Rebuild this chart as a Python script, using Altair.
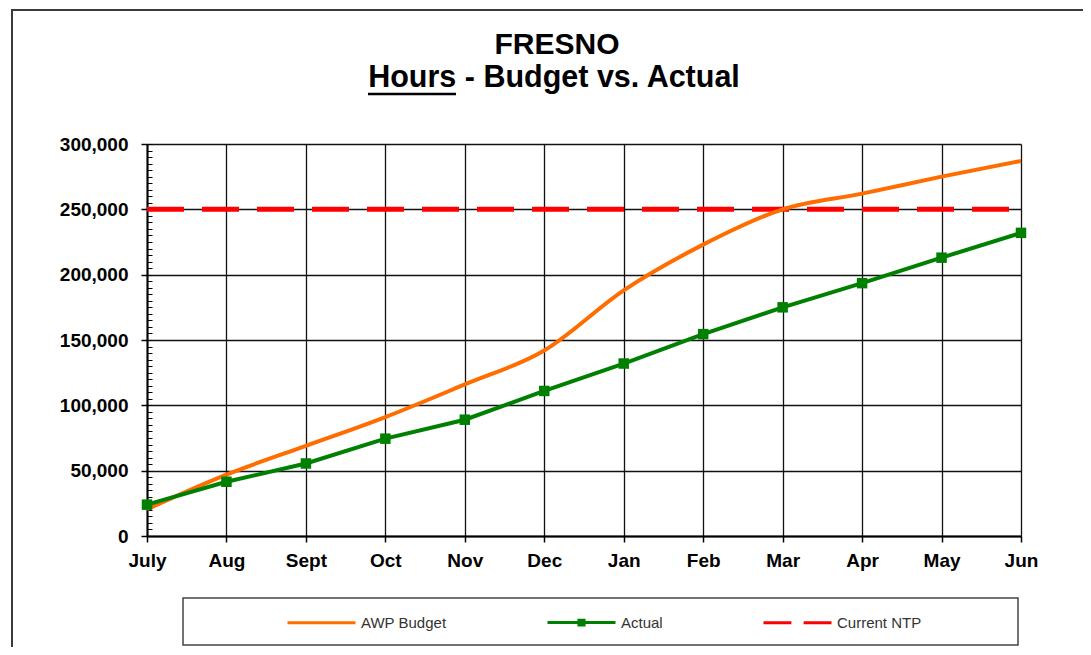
import altair as alt
import pandas as pd

months = ["July", "Aug", "Sept", "Oct", "Nov", "Dec", "Jan", "Feb", "Mar", "Apr", "May", "Jun"]
budget = [20500, 47000, 69000, 91000, 116000, 142000, 188000, 223000, 250000, 262000, 275000, 287000]
actual = [24000, 41500, 55500, 74500, 89000, 111000, 132000, 154500, 175000, 193500, 213000, 232000]
ntp = [250000] * 12
series_names = ["AWP Budget", "Actual", "Current NTP"]
series_colors = ["#FF6C00", "#008000", "#FF0000"]
legend_shapes = ["M-1,0H1",
                 "M-1,0H1M-0.12,-0.07H0.12M-0.12,0.07H0.12",
                 "M-1,0H-0.18M0.18,0H1"]
title_line1 = "FRESNO"
title_line2 = "Hours - Budget vs. Actual"
y_ticks = [0, 50000, 100000, 150000, 200000, 250000, 300000]
y_minor = list(range(0, 300001, 5000))

df_b = pd.DataFrame({"month": months, "value": budget, "series": series_names[0]})
df_a = pd.DataFrame({"month": months, "value": actual, "series": series_names[1]})
df_n = pd.DataFrame({"month": months, "value": ntp, "series": series_names[2]})

FONT = "Liberation Sans"

xenc = alt.X("month:N", sort=months, scale=alt.Scale(type="point", padding=0),
             axis=alt.Axis(title=None, labelAngle=0, labelFont=FONT, labelFontSize=19,
                           labelFontWeight="bold", labelColor="black", labelPadding=9,
                           tickSize=6, tickColor="black", tickWidth=1.5,
                           domainColor="black", domainWidth=2,
                           grid=True, gridColor="#111111", gridWidth=1.3))
yscale = alt.Scale(domain=[0, 300000], nice=False)
y_main = alt.Y("value:Q", scale=yscale,
               axis=alt.Axis(title=None, orient="left", values=y_ticks, format=",.0f",
                             labelFont=FONT, labelFontSize=19, labelFontWeight="bold",
                             labelColor="black", labelPadding=13, tickSize=6,
                             tickColor="black", tickWidth=1.5, domainColor="black",
                             domainWidth=2, grid=True, gridColor="#111111", gridWidth=1.3))
y_min = alt.Y("value:Q", scale=yscale,
              axis=alt.Axis(title=None, orient="left", values=y_minor, labels=False,
                            tickSize=5, tickColor="black", tickWidth=1, domain=False,
                            grid=False, offset=-5))
y_none = alt.Y("value:Q", scale=yscale, axis=None)

legend = alt.Legend(
    title=None, orient="none", legendX=139, legendY=443, direction="horizontal",
    symbolSize=4624, symbolStrokeWidth=3, labelFont=FONT,
    labelFontSize=15, labelColor="#333333", labelOffset=4, columnPadding=94,
    padding=0,
)
color_leg = alt.Color("series:N", scale=alt.Scale(domain=series_names, range=series_colors),
                      legend=legend)
shape_leg = alt.Shape("series:N", scale=alt.Scale(domain=series_names, range=legend_shapes),
                      legend=legend)
color = alt.Color("series:N", scale=alt.Scale(domain=series_names, range=series_colors),
                  legend=None)

deco = pd.DataFrame({"k": [0]})
border = alt.Chart(deco).mark_rect(fill="transparent", stroke="#3a3a3a", strokeWidth=2).encode(
    x=alt.value(-135), x2=alt.value(1200), y=alt.value(-134), y2=alt.value(900))
legbox = alt.Chart(deco).mark_rect(fill="transparent", stroke="#444444", strokeWidth=1.5).encode(
    x=alt.value(36), x2=alt.value(871), y=alt.value(454), y2=alt.value(501))
t1 = alt.Chart(deco).mark_text(font=FONT, fontSize=30, fontWeight="bold", color="black",
                               align="center", baseline="alphabetic").encode(
    x=alt.value(410), y=alt.value(-90), text=alt.value(title_line1))
t2 = alt.Chart(deco).mark_text(font=FONT, fontSize=30.5, fontWeight="bold", color="black",
                               align="center", baseline="alphabetic").encode(
    x=alt.value(407), y=alt.value(-57), text=alt.value(title_line2))
underline = alt.Chart(deco).mark_rule(color="black", strokeWidth=2.5).encode(
    x=alt.value(221), x2=alt.value(309), y=alt.value(-50))

# legend-only layer: no rows drawn, it only carries the legend symbols
legend_layer = alt.Chart(df_a).transform_filter("datum.value < 0").mark_point(
    filled=False, strokeWidth=3, opacity=1, size=4624).encode(
    x=xenc, y=y_none, color=color_leg, shape=shape_leg)

ntp_layer = alt.Chart(df_n).mark_line(strokeWidth=5, strokeDash=[37, 18], strokeCap="butt").encode(
    x=xenc, y=y_main, color=color)
budget_layer = alt.Chart(df_b).mark_line(strokeWidth=4, interpolate="monotone").encode(
    x=xenc, y=y_min, color=color)
actual_layer = alt.Chart(df_a).mark_line(strokeWidth=4).encode(x=xenc, y=y_none, color=color)
actual_pts = alt.Chart(df_a).mark_square(size=110, opacity=1, color="#008000").encode(
    x=xenc, y=y_none)

chart = alt.layer(border, legbox, t1, t2, underline, legend_layer, ntp_layer, budget_layer,
                  actual_layer, actual_pts).resolve_axis(y="independent").properties(
    width=874, height=392,
    autosize=alt.AutoSizeParams(type="none"),
    padding={"left": 139, "top": 136, "right": 62, "bottom": 111},
).configure_view(fill="#C0C0C0", stroke="black", strokeWidth=2).configure(background="white")

chart.save("out.html", embed_options={"renderer": "svg", "actions": False})
